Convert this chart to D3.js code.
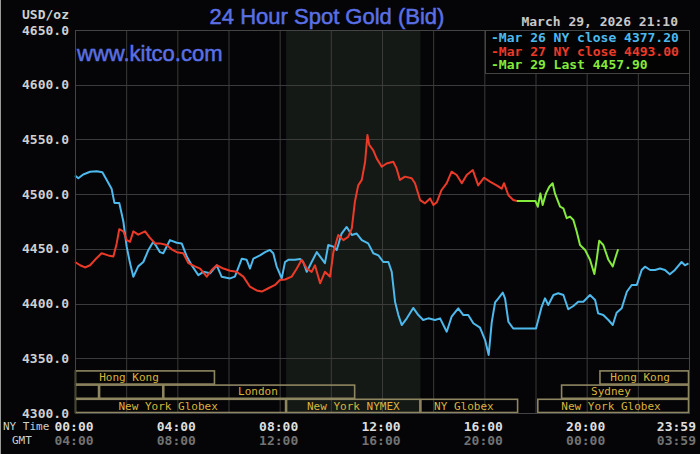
<!DOCTYPE html>
<html lang="en">
<head>
  <meta charset="UTF-8">
  <title>24 Hour Spot Gold (Bid)</title>
  <script src="https://d3js.org/d3.v7.min.js"></script>
  <style>
    body { margin: 0; background: #050507; overflow: hidden; }
    svg { display: block; }
    .mono { font-family: "DejaVu Sans Mono", monospace; }
  </style>
</head>
<body>
  <svg id="chart" width="700" height="454"></svg>

  <script>
    // —— data (hours since 00:00 NY time, USD/oz) ——
    const yTicks = [4300, 4350, 4400, 4450, 4500, 4550, 4600, 4650];
    const xTickHours = [0, 4, 8, 12, 16, 20, 24];
    const nyLabels  = ["00:00", "04:00", "08:00", "12:00", "16:00", "20:00", "23:59"];
    const gmtLabels = ["04:00", "08:00", "12:00", "16:00", "20:00", "00:00", "03:59"];

    const legendLabels = ["-Mar 26 NY close 4377.20", "-Mar 27 NY close 4493.00", "-Mar 29 Last 4457.90"];

    // Mar 26 (blue)
    const blueH = [0,0.13,0.32,0.59,0.85,1.07,1.24,1.43,1.54,1.73,1.89,2.02,2.15,2.28,2.47,2.67,2.87,3.06,3.19,3.32,3.45,3.71,3.98,4.17,4.37,4.56,4.82,5.02,5.28,5.54,5.73,6.06,6.25,6.52,6.71,6.84,6.97,7.23,7.43,7.62,7.75,7.88,8.08,8.21,8.34,8.60,8.80,8.92,9.06,9.25,9.45,9.64,9.77,9.90,10.10,10.23,10.42,10.62,10.82,11.01,11.21,11.46,11.66,11.86,12.05,12.25,12.38,12.51,12.64,12.77,12.97,13.22,13.42,13.61,13.81,14.07,14.27,14.53,14.72,14.98,15.18,15.37,15.57,15.83,16.03,16.17,16.29,16.42,16.55,16.72,16.81,16.94,17.13,18.02,18.24,18.37,18.50,18.70,18.89,19.09,19.28,19.48,19.67,19.87,20.13,20.33,20.45,20.65,20.85,21.02,21.17,21.37,21.57,21.76,21.96,22.15,22.28,22.48,22.67,22.87,23.06,23.25,23.45,23.71,23.84,23.98];
    const blueP = [4517,4514.5,4518,4520.5,4521,4520,4513,4505,4492,4492,4475,4452,4437,4424.5,4434,4438,4449,4456.5,4452,4447,4446,4458,4455.6,4455,4443,4435,4426,4429,4427.7,4435,4424.6,4423,4424.6,4441,4440,4432,4441,4444,4447,4449,4446,4434,4423,4438,4440,4440,4440.7,4438,4429,4438,4447,4441,4437,4453.5,4452,4449,4464,4470,4462.6,4464,4458,4455,4446,4444,4438,4438,4429,4401.7,4389.5,4380.4,4386.5,4396,4389.5,4385,4386.5,4385,4386.5,4374.3,4388,4395.7,4389.5,4389.5,4382,4378,4366.7,4353,4383,4401,4404.8,4410,4404.8,4383.4,4377.2,4377.2,4397,4404.8,4398.7,4407.8,4409.4,4407.8,4394.8,4397.8,4401.7,4401.7,4407.8,4403.3,4391,4389.5,4385,4380.4,4391.6,4395.7,4410.8,4417,4417,4430.7,4433.7,4430.7,4430.7,4432,4430.7,4426.7,4430.7,4438,4435,4436.8];

    // Mar 27 (red)
    const redH = [0,0.20,0.39,0.59,0.78,1.04,1.30,1.50,1.63,1.73,1.89,2.02,2.15,2.28,2.47,2.74,2.93,3.13,3.32,3.58,3.78,3.98,4.23,4.43,4.69,4.89,5.15,5.34,5.54,5.80,6.06,6.32,6.58,6.84,7.10,7.30,7.56,7.82,8.01,8.21,8.47,8.67,8.86,9.06,9.25,9.38,9.58,9.77,9.97,10.10,10.29,10.49,10.68,10.82,10.94,11.07,11.21,11.34,11.43,11.50,11.66,11.79,11.99,12.18,12.44,12.57,12.70,12.90,13.16,13.29,13.49,13.68,13.88,14.01,14.14,14.33,14.53,14.72,14.92,15.12,15.31,15.55,15.76,15.99,16.22,16.48,16.68,16.77,16.94,17.13,17.27];
    const redP = [4438,4435,4433,4435,4440,4446,4444,4443,4455,4468,4466,4458,4456.5,4466,4463,4466,4460,4455,4455,4453.5,4449.6,4447,4446,4437,4434,4432,4424.6,4430.7,4435,4432,4430,4429,4424.6,4415.4,4412,4411,4414,4417,4421.5,4422,4424.6,4432,4440,4432,4429,4435,4418.5,4429,4424.6,4447,4462.6,4458,4461,4468.8,4493,4508,4513,4529.6,4554,4545,4540,4532.7,4525,4528,4529.6,4523.5,4513,4516,4514.5,4510,4494.6,4491.6,4496,4490,4492.5,4503.8,4510,4520.5,4517.5,4510,4517.5,4522,4508,4515,4511.4,4508,4505,4510,4499,4494.6,4493.7];

    // Mar 29 (green)
    const greenH = [17.27,18.00,18.09,18.19,18.28,18.41,18.54,18.67,18.76,18.96,19.09,19.22,19.35,19.48,19.61,19.74,19.94,20.13,20.30,20.39,20.49,20.65,20.85,21.02,21.11,21.23];
    const greenP = [4493.7,4493.7,4488.5,4500.7,4490,4500.7,4506.8,4510,4500.7,4488.5,4487,4478,4479.5,4476.4,4465.8,4453.5,4449,4440,4427,4440,4457.5,4453.5,4440,4434,4441,4449.6];

    // trading sessions: row 0 = top band
    const sessionNames = ["Hong Kong", "", "", "London", "New York Globex", "New York NYMEX", "NY Globex", "New York Globex", "Sydney", "Hong Kong"];
    const sessionRow   = [0, 1, 1, 1, 2, 2, 2, 2, 1, 0];
    const sessionStart = [0, 0, 0.94, 3.45, 0, 8.25, 13.5, 18.07, 19.0, 20.5];
    const sessionEnd   = [5.47, 0.94, 3.45, 10.95, 8.25, 13.5, 17.32, 24, 24, 24];
    const sessionLabelAt = [2.11, 0, 0, 7.15, 3.64, 10.88, 15.2, 20.95, 20.95, 22.09];
    const nymexOpen = 8.25, nymexClose = 13.5;

    // —— layout ——
    const W = 700, H = 454;
    const pL = 75, pR = 689, pT = 30, pB = 413;
    const svg = d3.select("#chart");
    const x = d3.scaleLinear().domain([0, 24]).range([pL, pR]);
    const y = d3.scaleLinear().domain([4300, 4650]).range([pB, pT]);
    const gridCol = "#3b3b3b";

    svg.append("rect").attr("width", W).attr("height", H).attr("fill", "#050507");
    svg.append("line").attr("x1", 0.5).attr("x2", 0.5).attr("y1", 0).attr("y2", H)
       .attr("stroke", "#9a9a9a");

    // NYMEX shading
    svg.append("rect")
      .attr("x", x(nymexOpen)).attr("y", pT)
      .attr("width", x(nymexClose) - x(nymexOpen)).attr("height", pB - pT)
      .attr("fill", "#151915");

    // grid
    svg.append("g").selectAll("line").data(d3.range(0, 25, 2)).join("line")
      .attr("x1", d => x(d) + 0.5).attr("x2", d => x(d) + 0.5)
      .attr("y1", pT).attr("y2", pB)
      .attr("stroke", gridCol);
    svg.append("g").selectAll("line").data(yTicks).join("line")
      .attr("x1", pL).attr("x2", pR)
      .attr("y1", d => Math.round(y(d)) + 0.5).attr("y2", d => Math.round(y(d)) + 0.5)
      .attr("stroke", gridCol);

    // session bands
    const rowH = 14.2;
    const sess = svg.append("g");
    sessionNames.forEach((name, i) => {
      const y0 = pB - (3 - sessionRow[i]) * rowH;
      const x0 = x(sessionStart[i]), x1 = x(sessionEnd[i]);
      sess.append("rect")
        .attr("x", x0 + 0.5).attr("y", y0 + 0.5)
        .attr("width", x1 - x0 - 1).attr("height", rowH - 1)
        .attr("fill", "none").attr("stroke", "#8e8660").attr("stroke-width", 1.6);
      if (name) {
        sess.append("text").attr("class", "mono")
          .attr("x", x(sessionLabelAt[i])).attr("y", y0 + rowH - 3.5)
          .attr("text-anchor", "middle")
          .attr("font-size", 11).attr("fill", "#d9b43c")
          .text(name);
      }
    });

    // price lines
    const line = d3.line().x(d => x(d[0])).y(d => y(d[1]));
    const series = [
      { h: blueH,  p: blueP,  color: "#4db9ec" },
      { h: redH,   p: redP,   color: "#ec3a28" },
      { h: greenH, p: greenP, color: "#84ea3c" }
    ];
    series.forEach(s => {
      svg.append("path")
        .datum(d3.zip(s.h, s.p))
        .attr("d", line)
        .attr("fill", "none")
        .attr("stroke", s.color)
        .attr("stroke-width", 2)
        .attr("stroke-linejoin", "round");
    });

    // plot frame
    svg.append("rect").attr("x", pL + 0.5).attr("y", pT + 0.5)
      .attr("width", pR - pL).attr("height", pB - pT)
      .attr("fill", "none").attr("stroke", "#444");

    // legend
    const legX = 485, legY = pT, legW = pR - 485, legH = 43;
    svg.append("rect").attr("x", legX + 0.5).attr("y", legY + 0.5)
      .attr("width", legW).attr("height", legH)
      .attr("fill", "#030303").attr("stroke", "#444");
    svg.append("g").selectAll("text").data(legendLabels).join("text")
      .attr("class", "mono")
      .attr("x", legX + 6).attr("y", (d, i) => legY + 12 + i * 13.5)
      .attr("font-size", 13).attr("font-weight", "bold")
      .attr("fill", (d, i) => series[i].color)
      .text(d => d);

    // y axis labels
    svg.append("g").selectAll("text").data(yTicks).join("text")
      .attr("class", "mono")
      .attr("x", 69).attr("y", d => y(d) + 4.5)
      .attr("text-anchor", "end")
      .attr("font-size", 13).attr("font-weight", "bold").attr("fill", "#cfcfcf")
      .text(d3.format(".1f"));
    svg.append("text").attr("class", "mono")
      .attr("x", 69).attr("y", 19).attr("text-anchor", "end")
      .attr("font-size", 13).attr("font-weight", "bold").attr("fill", "#cfcfcf")
      .text("USD/oz");

    // x axis labels
    const anchorFor = i => i === xTickHours.length - 1 ? "end" : "middle";
    const xPos = (d, i) => i === xTickHours.length - 1 ? 696 : x(d) - 1;
    svg.append("g").selectAll("text").data(xTickHours).join("text")
      .attr("class", "mono")
      .attr("x", xPos).attr("y", 431)
      .attr("text-anchor", (d, i) => anchorFor(i))
      .attr("font-size", 13).attr("font-weight", "bold").attr("fill", "#dedede")
      .text((d, i) => nyLabels[i]);
    svg.append("g").selectAll("text").data(xTickHours).join("text")
      .attr("class", "mono")
      .attr("x", xPos).attr("y", 445)
      .attr("text-anchor", (d, i) => anchorFor(i))
      .attr("font-size", 13).attr("font-weight", "bold").attr("fill", "#727272")
      .text((d, i) => gmtLabels[i]);
    svg.append("text").attr("class", "mono")
      .attr("x", 3).attr("y", 430).attr("font-size", 11).attr("fill", "#cfcfcf")
      .text("NY Time");
    svg.append("text").attr("class", "mono")
      .attr("x", 12).attr("y", 444).attr("font-size", 11).attr("fill", "#cfcfcf")
      .text("GMT");

    // titles
    const blue = "#5a70e4";
    svg.append("text")
      .attr("x", 327).attr("y", 24).attr("text-anchor", "middle")
      .attr("font-family", "'Liberation Sans', Arial, sans-serif")
      .attr("font-size", 22).attr("fill", blue)
      .attr("stroke", blue).attr("stroke-width", 0.5)
      .text("24 Hour Spot Gold (Bid)");
    svg.append("text")
      .attr("x", 77).attr("y", 61)
      .attr("font-family", "'Liberation Sans', Arial, sans-serif")
      .attr("font-size", 22).attr("fill", blue)
      .attr("stroke", blue).attr("stroke-width", 0.5)
      .text("www.kitco.com");
    svg.append("text").attr("class", "mono")
      .attr("x", 678).attr("y", 26).attr("text-anchor", "end")
      .attr("font-size", 13).attr("font-weight", "bold").attr("fill", "#c8c8c8")
      .text("March 29, 2026 21:10");
  </script>
</body>
</html>
